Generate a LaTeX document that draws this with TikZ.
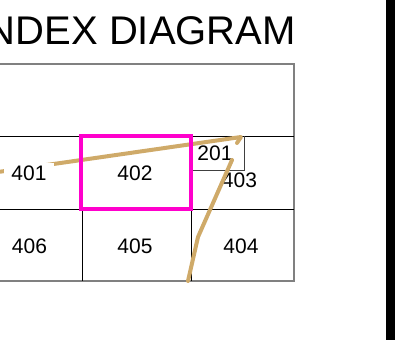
\documentclass[tikz,border=0pt]{standalone}
\usepackage{fontspec}
\setmainfont{Liberation Sans}
\usetikzlibrary{positioning}
\definecolor{trail}{RGB}{207,170,105}
\definecolor{hilite}{RGB}{255,0,204}

\begin{document}
\begin{tikzpicture}[x=1pt,y=-1pt,
    lbl/.style={font=\fontsize{21}{21}\selectfont,inner sep=0pt},
    trailline/.style={draw=trail,line width=4pt,line cap=round,line join=round}]
      \useasboundingbox (0,0) rectangle (395,339);

      \node[anchor=base east,inner sep=0pt,font=\fontsize{40}{40}\selectfont] (title) at (296,45) {NDEX DIAGRAM};

      %sheet frame and grid
      \draw[black!50,line width=2pt] (-10,64) rectangle (294,281);
      \draw[black,line width=1pt] (-10,136) -- (294,136);
      \draw[black,line width=1pt] (-10,209) -- (294,209);
      \draw[black,line width=1pt] (82,209) -- (82,281);
      \draw[black,line width=1pt] (191,209) -- (191,281);
      \draw[black!75,line width=1pt] (191,170) -- (244,170) -- (244,136);

      %trail a
      \coordinate (ta) at (-2,172);
      \coordinate (tb) at (241,137);
      \coordinate (tc) at (237,143);
      \draw[trailline] (ta) -- (tb) -- (tc);

      \draw[hilite,line width=3.5pt] (81,136) rectangle (191,209);

      \node[lbl,fill=white,inner xsep=7pt,inner ysep=3pt] (s401) at (29,173.5) {401};
      \node[lbl] (s402) at (135,173.5) {402};
      \node[lbl] (s201) at (215,153) {201};
      \node[lbl] (s403) at (239.5,180.5) {403};
      \node[lbl] (s406) at (29.5,246) {406};
      \node[lbl] (s405) at (135,246) {405};
      \node[lbl] (s404) at (241,246) {404};

      %trail b
      \coordinate (td) at (188,281);
      \coordinate (te) at (198,237);
      \coordinate (tf) at (232,160);
      \draw[trailline] (td) -- (te) -- (tf);

      \fill[black] (386,-1) rectangle (394.5,340);
    \end{tikzpicture}
\end{document}
